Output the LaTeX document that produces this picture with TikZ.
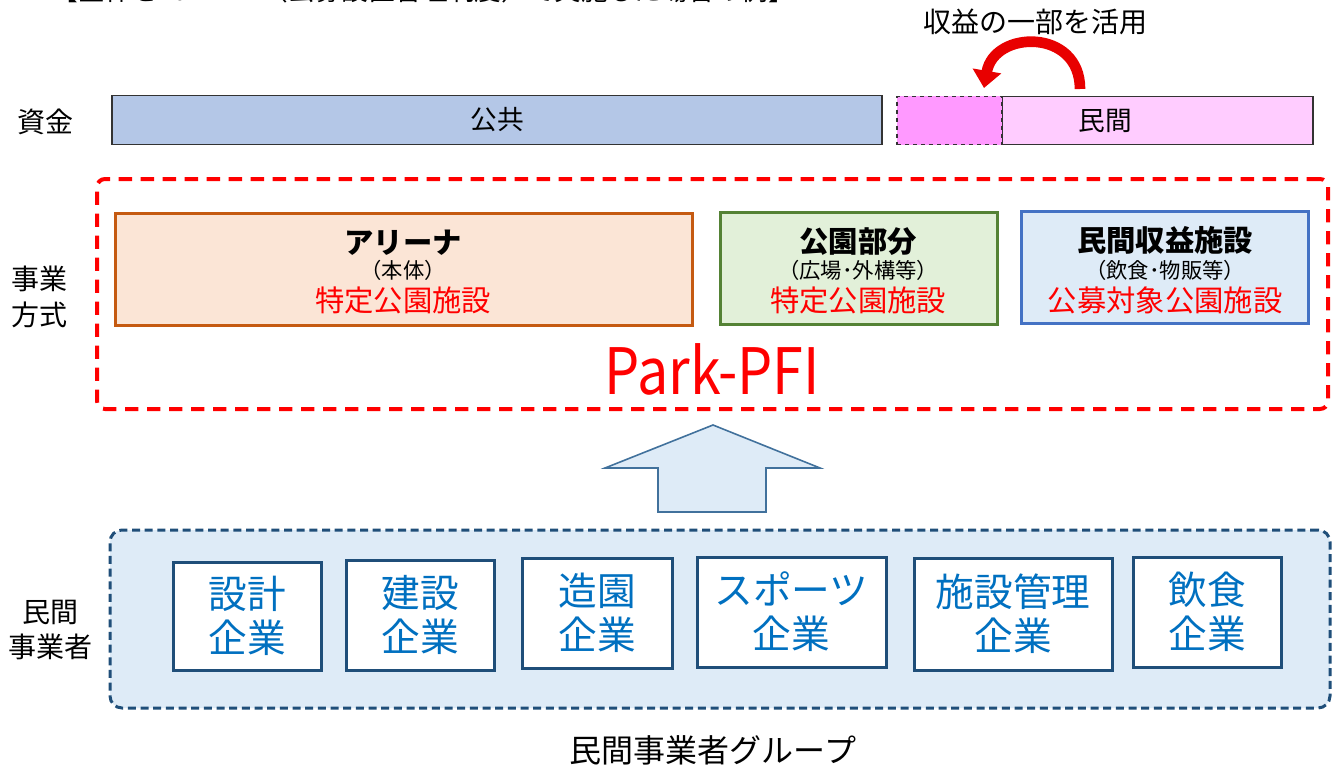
\documentclass[tikz,border=0pt]{standalone}
\usepackage{fontspec}
\setmainfont{Noto Sans CJK JP}
\newfontfamily\pfifont[FakeStretch=0.87]{Noto Sans CJK JP}
\usetikzlibrary{arrows.meta,positioning}
\definecolor{kokyoao}{HTML}{B4C7E7}
\definecolor{minkanpink}{HTML}{FFCCFF}
\definecolor{koipink}{HTML}{FF99FF}
\definecolor{arenawaku}{HTML}{C55A11}
\definecolor{arenanuri}{HTML}{FBE5D6}
\definecolor{koenwaku}{HTML}{548235}
\definecolor{koennuri}{HTML}{E2F0D9}
\definecolor{shuekiwaku}{HTML}{4472C4}
\definecolor{usuao}{HTML}{DEEBF7}
\definecolor{gunjo}{HTML}{1F4E79}
\definecolor{kigyoao}{HTML}{0070C0}
\definecolor{yajiwaku}{HTML}{41719C}
\definecolor{kaerired}{HTML}{E80000}
\tikzset{
  bar/.style={draw=black!80, line width=0.9pt, inner sep=0pt, minimum height=36.5pt},
  shisetsu/.style={line width=2.25pt, inner sep=0pt, minimum height=84pt},
  midashi/.style={font=\fontsize{22}{24}\selectfont\bfseries},
  kakko/.style={font=\fontsize{16}{18}\selectfont},
  shurui/.style={text=red, font=\fontsize{22}{24}\selectfont},
  kigyo/.style={draw=gunjo, line width=2.25pt, fill=white, text=kigyoao, align=center,
    inner sep=0pt, font=\fontsize{29}{33}\selectfont},
  hidari/.style={align=center, font=\fontsize{21}{26.5}\selectfont}
}
\begin{document}
\begin{tikzpicture}[x=0.75pt,y=-0.75pt]
\useasboundingbox (0,0) rectangle (1337,767);
\clip (0,0) rectangle (1337,767);
\node (midasi) [anchor=base west, font=\fontsize{20}{22}\selectfont] at (47,1) {【全体をPark-PFI（公募設置管理制度）で実施した場合の例】};
\node (katsuyo) at (1035,22) [font=\fontsize{21}{24}\selectfont] {収益の一部を活用};
\node (shikin) at (45,122) [hidari] {資金};
\node (kokyo) at (497,120) [bar, fill=kokyoao, minimum width=577.5pt, font=\fontsize{20}{22}\selectfont] {公共};
\node (minkan) at (1157.5,120.5) [bar, fill=minkanpink, minimum width=233.25pt] {};
\node (bubun) at (949.5,120.5) [bar, fill=koipink, dashed, minimum width=78.75pt] {};
\node (minkanmoji) at (1105,121) [font=\fontsize{20}{22}\selectfont] {民間};
\coordinate (kaerimoto) at (1080,89);
\coordinate (kaerisaki) at (984,88);
\draw[kaerired, line width=8pt, -{Triangle[width=21pt,length=13pt]}] (kaerimoto) .. controls (1080,28) and (994,30) .. (kaerisaki);
\node (hoshiki) at (40,297) [hidari] {事業\\方式};
\node (pfiwaku) at (712.5,294) [draw=red, line width=3pt, dash pattern=on 10pt off 6.5pt, rounded corners=6pt, minimum width=923.25pt, minimum height=172.5pt] {};
\node (arena) at (403.5,269) [shisetsu, draw=arenawaku, fill=arenanuri, minimum width=432.75pt] {};
\node (koen) at (858.5,268) [shisetsu, draw=koenwaku, fill=koennuri, minimum width=207.75pt] {};
\node (shueki) at (1164.5,267.5) [shisetsu, draw=shuekiwaku, fill=usuao, minimum width=215.25pt] {};
\node (arenamei) at (403,243) [midashi] {アリーナ};
\node (arenakakko) at (403,270) [kakko] {（本体）};
\node (arenashurui) at (403,300) [shurui] {特定公園施設};
\node (koenmei) at (858,242) [midashi] {公園部分};
\node (koenkakko) at (858,270) [kakko] {（広場･外構等）};
\node (koenshurui) at (858,300) [shurui] {特定公園施設};
\node (shuekimei) at (1165,240) [midashi] {民間収益施設};
\node (shuekikakko) at (1165,270) [kakko] {（飲食･物販等）};
\node (shuekishurui) at (1165,300) [shurui] {公募対象公園施設};
\node (pfi) at (712,369) [text=red, font=\pfifont\fontsize{48}{50}\selectfont] {Park-PFI};
\draw[fill=usuao, draw=yajiwaku, line width=1.2pt] (713,425) -- (820,468) -- (766,468) -- (766,512) -- (658,512) -- (658,468) -- (605,468) -- cycle;
\node (jigyosha) at (50,630) [hidari] {民間\\事業者};
\node (gurupu) at (720,619) [draw=gunjo, fill=usuao, line width=2.25pt, dash pattern=on 6pt off 3.5pt, rounded corners=9pt, minimum width=915pt, minimum height=133.5pt] {};
\node (sekkei) at (247,616) [kigyo, minimum width=111pt, minimum height=81pt] {設計\\企業};
\node (kensetsu) at (420,615) [kigyo, minimum width=111pt, minimum height=82.5pt] {建設\\企業};
\node (zoen) at (597,613) [kigyo, minimum width=112.5pt, minimum height=82.5pt] {造園\\企業};
\node (supotsu) at (791.5,612) [kigyo, minimum width=141.75pt, minimum height=82.5pt] {スポーツ\\企業};
\node (kanri) at (1013,614) [kigyo, minimum width=148.5pt, minimum height=84pt] {施設管理\\企業};
\node (inshoku) at (1207,612) [kigyo, minimum width=111pt, minimum height=82.5pt] {飲食\\企業};
\node (gurupumei) at (713,750) [font=\fontsize{24}{26}\selectfont] {民間事業者グループ};
\end{tikzpicture}
\end{document}
